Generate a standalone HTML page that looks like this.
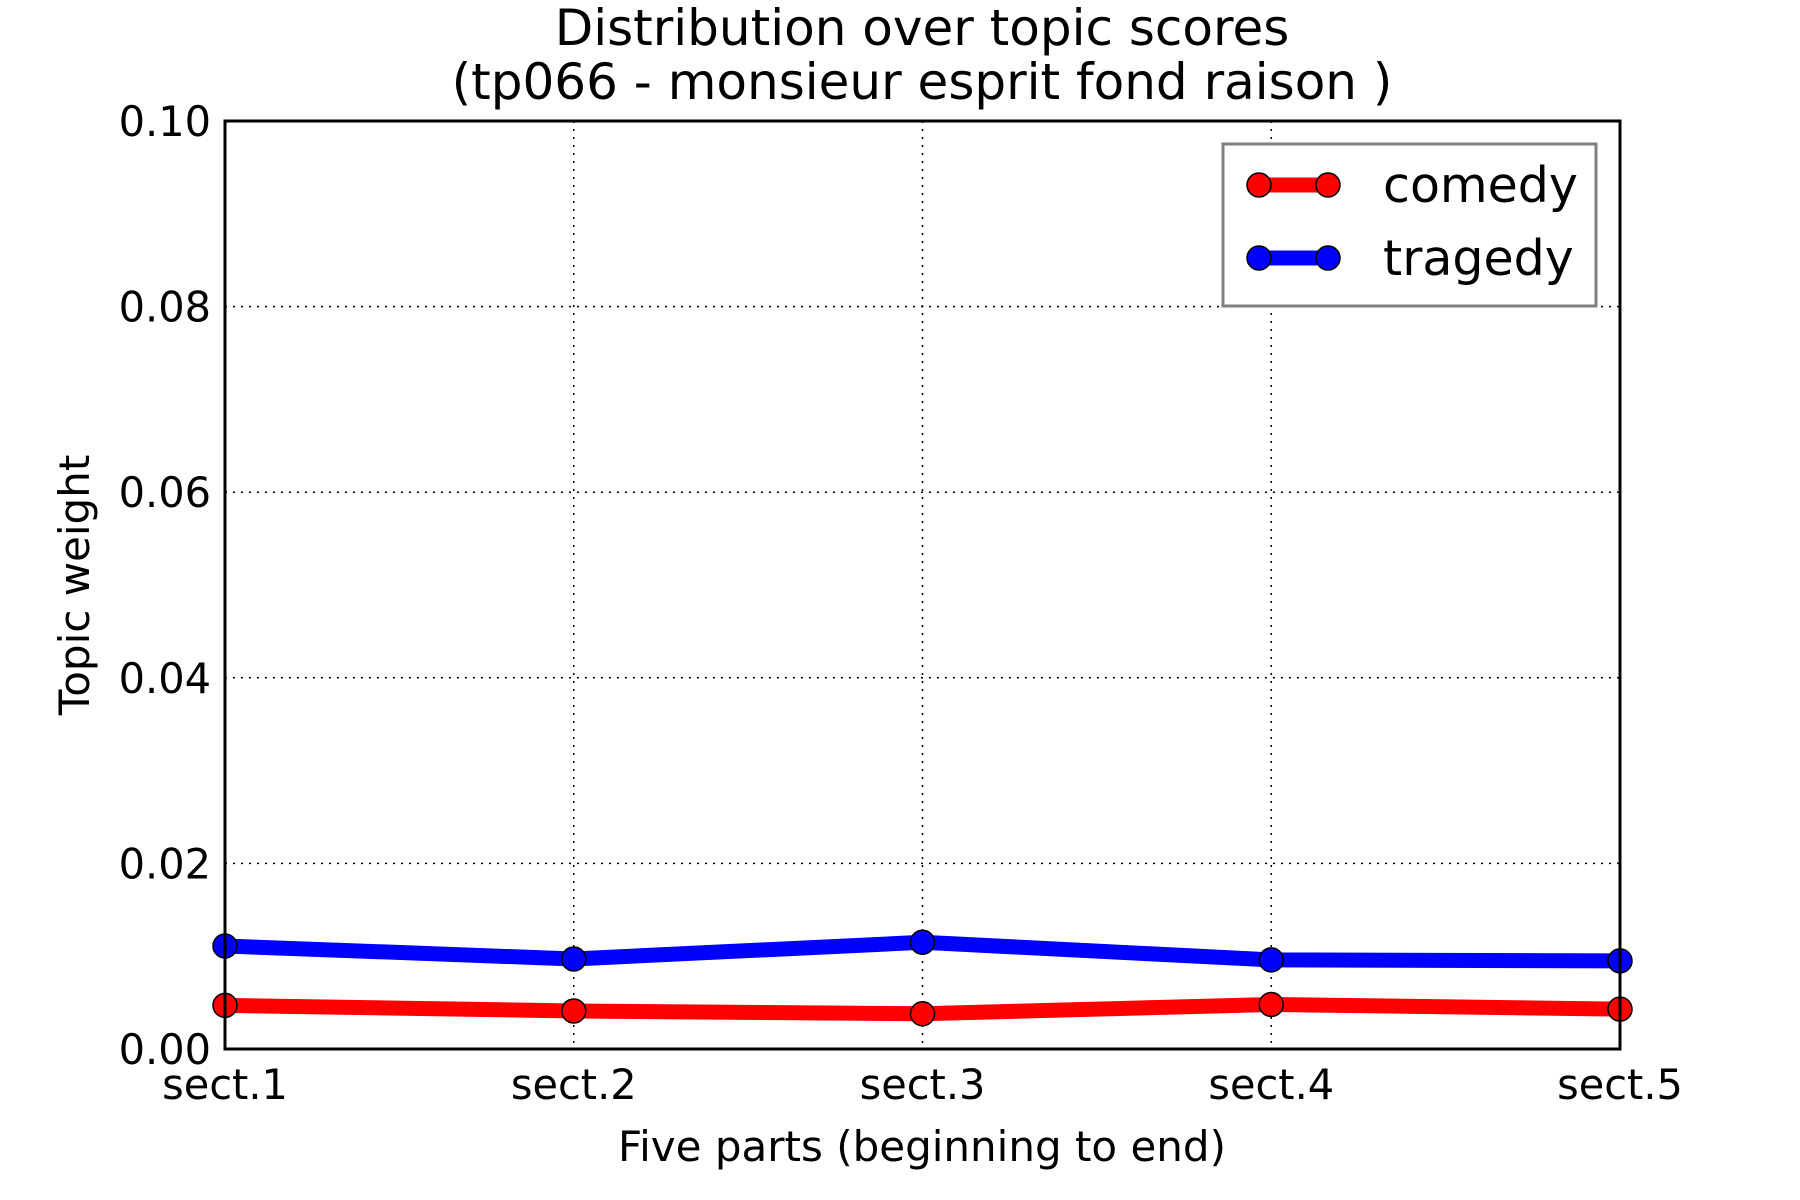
<!DOCTYPE html>
<html><head><meta charset="utf-8"><style>
html,body{margin:0;padding:0;background:#fff;}
svg{display:block;font-family:"DejaVu Sans","Liberation Sans",sans-serif;}
</style></head><body>
<svg id="chart" width="1800" height="1200" viewBox="0 0 1800 1200">
<text x="922" y="45" font-size="50" text-anchor="middle">Distribution over topic scores</text>
<text x="922" y="99" font-size="50" text-anchor="middle">(tp066 - monsieur esprit fond raison )</text>
<g id="grid"></g>
<g id="series"></g>
<rect x="225" y="121" width="1395" height="928" fill="none" stroke="#000" stroke-width="3"/>
<g id="ticks"></g>
<text x="922" y="1161" font-size="42" text-anchor="middle">Five parts (beginning to end)</text>
<text transform="translate(89,585) rotate(-90)" font-size="42" text-anchor="middle">Topic weight</text>
<g>
<rect x="1223" y="144" width="373" height="162" fill="#fff" stroke="#808080" stroke-width="3"/>
<g>
<line x1="1259" y1="185" x2="1328" y2="185" stroke="#f00" stroke-width="15"/>
<circle cx="1259" cy="185" r="12" fill="#f00" stroke="#000" stroke-width="1.5"/>
<circle cx="1328" cy="185" r="12" fill="#f00" stroke="#000" stroke-width="1.5"/>
<text x="1383" y="202" font-size="49">comedy</text>
</g>
<g>
<line x1="1259" y1="258" x2="1328" y2="258" stroke="#00f" stroke-width="15"/>
<circle cx="1259" cy="258" r="12" fill="#00f" stroke="#000" stroke-width="1.5"/>
<circle cx="1328" cy="258" r="12" fill="#00f" stroke="#000" stroke-width="1.5"/>
<text x="1383" y="275" font-size="49">tragedy</text>
</g>
</g>
</svg>
<script>
const categories = ["sect.1","sect.2","sect.3","sect.4","sect.5"];
const comedy = [0.0047, 0.0041, 0.0038, 0.0048, 0.0043];
const tragedy = [0.0111, 0.0097, 0.0115, 0.0096, 0.0095];
const yTicks = [0, 0.02, 0.04, 0.06, 0.08, 0.10];
const yTickLabels = ["0.00","0.02","0.04","0.06","0.08","0.10"];
const NS = "http://www.w3.org/2000/svg";
const L = 225, R = 1620, T = 121, B = 1049, YMAX = 0.1;
function xs(i){ return L + i * (R - L) / (categories.length - 1); }
function ys(v){ return B - v / YMAX * (B - T); }
function mk(tag, attrs, parent){ const e = document.createElementNS(NS, tag); for (const k in attrs) e.setAttribute(k, attrs[k]); parent.appendChild(e); return e; }
const grid = document.getElementById('grid'), ticks = document.getElementById('ticks'), series = document.getElementById('series');
categories.forEach((c, i) => {
  const x = xs(i);
  if (i > 0 && i < categories.length - 1) {
    const g = mk('line', {x1: x, y1: T, x2: x, y2: B, stroke: '#000', 'stroke-width': 1.5, 'stroke-dasharray': '2,6'}, grid);
    
    
  }
  const t = mk('text', {x: x, y: 1099, 'font-size': 41.5, 'text-anchor': 'middle'}, ticks);
  t.textContent = c;
  
  
});
yTicks.forEach((v, i) => {
  const y = ys(v);
  if (i > 0 && i < yTicks.length - 1) {
    const g = mk('line', {x1: L, y1: y, x2: R, y2: y, stroke: '#000', 'stroke-width': 1.5, 'stroke-dasharray': '2,6'}, grid);
    
    
  }
  const t = mk('text', {x: 211, y: y + 15, 'font-size': 41.5, 'text-anchor': 'end'}, ticks);
  t.textContent = yTickLabels[i];
  
  
});
function drawSeries(vals, color, name){
  const pts = vals.map((v, i) => xs(i) + ',' + ys(v)).join(' ');
  const pl = mk('polyline', {points: pts, fill: 'none', stroke: color, 'stroke-width': 15, 'stroke-linejoin': 'round'}, series);
  
  
  vals.forEach((v, i) => {
    const c = mk('circle', {cx: xs(i), cy: ys(v), r: 12, fill: color, stroke: '#000', 'stroke-width': 1.5}, series);
    
    
  });
}
drawSeries(comedy, '#f00', 'comedy');
drawSeries(tragedy, '#00f', 'tragedy');
</script>
</body></html>
